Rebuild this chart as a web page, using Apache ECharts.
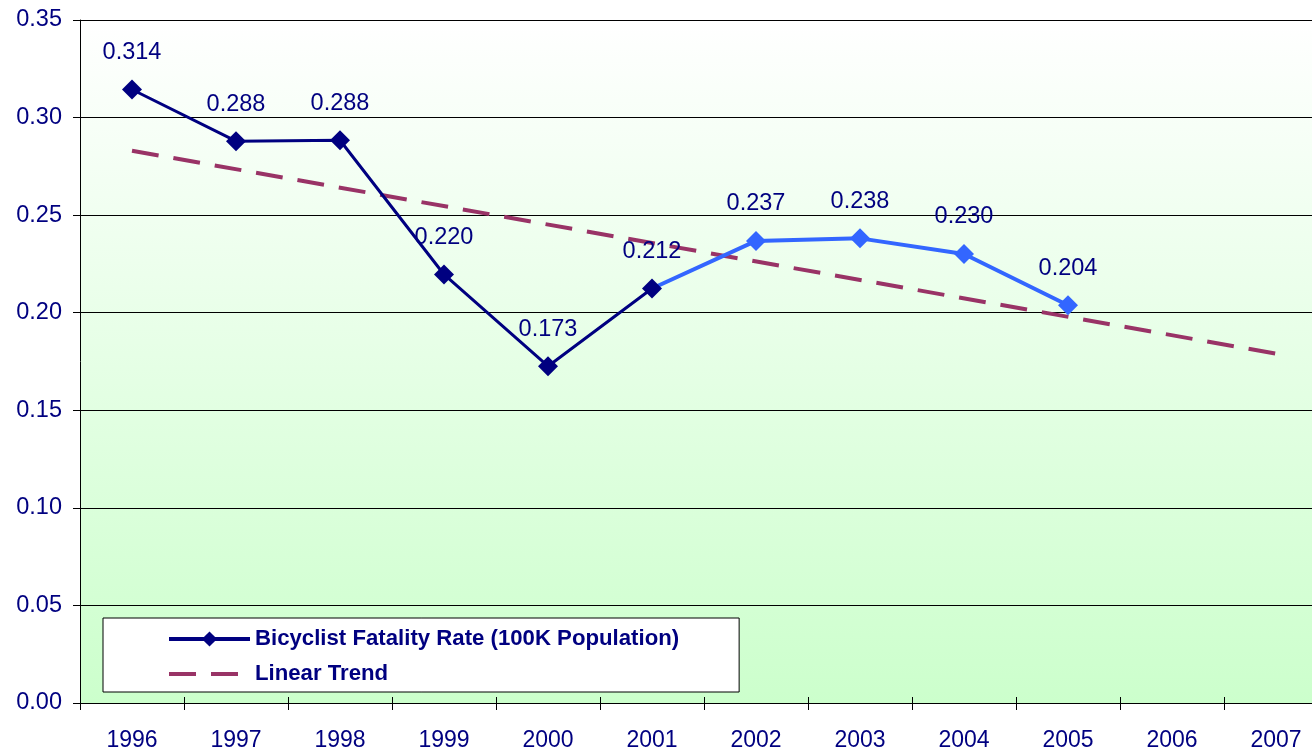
<!DOCTYPE html>
<html>
<head>
<meta charset="utf-8">
<script src="https://cdn.jsdelivr.net/npm/echarts@6/dist/echarts.min.js"></script>
<style>
  html, body { margin: 0; padding: 0; background: #fff; overflow: hidden; }
  /* plot area runs a little past the right edge of the window, as in the original */
  #chart { width: 1328px; height: 752px; }
</style>
</head>
<body>
<div id="chart"></div>
<script>
// categories on the x axis
var years = ['1996', '1997', '1998', '1999', '2000', '2001', '2002', '2003', '2004', '2005', '2006', '2007'];
// fatality rate per 100K population, 1996-2005
var rates = [0.3144, 0.2879, 0.2884, 0.2196, 0.1726, 0.2124, 0.2368, 0.2381, 0.2301, 0.2038];
// index where the line switches to the lighter colour
var splitAt = 5;
// linear trend end points (1996 and 2007)
var trendStart = 0.283;
var trendEnd = 0.179;

var navy = '#000080';
var lightBlue = '#3366ff';
var trendColor = '#993366';
var fontFamily = '"Liberation Sans", Arial, sans-serif';

var darkData = years.map(function (y, i) {
    return i <= splitAt ? rates[i] : '-';
});
var lightData = years.map(function (y, i) {
    if (i < splitAt || i >= rates.length) return '-';
    if (i === splitAt) return { value: rates[i], symbol: 'none', label: { show: false } };
    return rates[i];
});
var trendData = years.map(function (y, i) {
    if (i === 0) return trendStart;
    if (i === years.length - 1) return trendEnd;
    return null;
});

var myChart = echarts.init(document.getElementById('chart'), null, { renderer: 'canvas' });

var labelStyle = {
    show: true,
    position: 'top',
    distance: 15,
    color: navy,
    fontSize: 23.5,
    fontFamily: fontFamily,
    formatter: function (p) { return p.value.toFixed(3); }
};

var option = {
    animation: false,
    backgroundColor: '#fff',
    textStyle: { fontFamily: fontFamily },
    grid: {
        left: 80,
        top: 20,
        right: 0,
        bottom: 49,
        show: true,
        borderWidth: 0,
        backgroundColor: {
            type: 'linear', x: 0, y: 0, x2: 0, y2: 1,
            colorStops: [
                { offset: 0, color: '#ffffff' },
                { offset: 1, color: '#ccffcc' }
            ]
        }
    },
    legend: {
        orient: 'vertical',
        left: 103,
        top: 618,
        padding: [8, 60, 5, 64],
        itemGap: 9,
        itemWidth: 81,
        itemHeight: 19,
        backgroundColor: '#fff',
        borderColor: '#000',
        borderWidth: 1,
        borderRadius: 0,
        selectedMode: false,
        data: [
            {
                name: 'Bicyclist Fatality Rate (100K Population)',
                lineStyle: { width: 4, color: navy }
            },
            {
                name: 'Linear Trend',
                itemStyle: { opacity: 0 },
                lineStyle: { width: 4, color: trendColor, type: [27, 15] }
            }
        ],
        textStyle: {
            color: navy,
            fontSize: 22.2,
            fontWeight: 'bold',
            lineHeight: 26,
            fontFamily: fontFamily
        }
    },
    xAxis: [
        {
            type: 'category',
            data: years,
            boundaryGap: true,
            axisLine: { lineStyle: { color: '#000', width: 1 } },
            axisTick: { show: true, length: 7, lineStyle: { color: '#000' } },
            axisLabel: {
                color: navy,
                fontSize: 23,
                margin: 26,
                fontFamily: fontFamily,
                interval: 0
            },
            splitLine: { show: false }
        },
        {
            // inner half of the crossing tick marks
            type: 'category',
            data: years,
            position: 'bottom',
            boundaryGap: true,
            axisLine: { show: false },
            axisTick: { show: true, inside: true, length: 6, lineStyle: { color: '#000' } },
            axisLabel: { show: false },
            splitLine: { show: false }
        }
    ],
    yAxis: {
        type: 'value',
        min: 0,
        max: 0.35,
        interval: 0.05,
        axisLine: { show: true, lineStyle: { color: '#000', width: 1 } },
        axisTick: { show: true, length: 7, lineStyle: { color: '#000' } },
        axisLabel: {
            color: navy,
            fontSize: 23.5,
            margin: 18,
            fontFamily: fontFamily,
            formatter: function (v) { return v.toFixed(2); }
        },
        splitLine: { show: true, lineStyle: { color: '#000', width: 1 } }
    },
    series: [
        {
            name: 'Linear Trend',
            type: 'line',
            data: trendData,
            connectNulls: true,
            symbol: 'none',
            z: 1,
            lineStyle: { color: trendColor, width: 4, type: [27, 15] },
            itemStyle: { color: trendColor }
        },
        {
            name: 'Bicyclist Fatality Rate (2001-2005)',
            type: 'line',
            data: lightData,
            symbol: 'diamond',
            symbolSize: 20,
            z: 2,
            lineStyle: { color: lightBlue, width: 4 },
            itemStyle: { color: lightBlue },
            label: labelStyle
        },
        {
            name: 'Bicyclist Fatality Rate (100K Population)',
            type: 'line',
            data: darkData,
            symbol: 'diamond',
            symbolSize: 20,
            z: 3,
            lineStyle: { color: navy, width: 3 },
            itemStyle: { color: navy },
            label: labelStyle
        }
    ]
};

myChart.setOption(option);
</script>
</body>
</html>
